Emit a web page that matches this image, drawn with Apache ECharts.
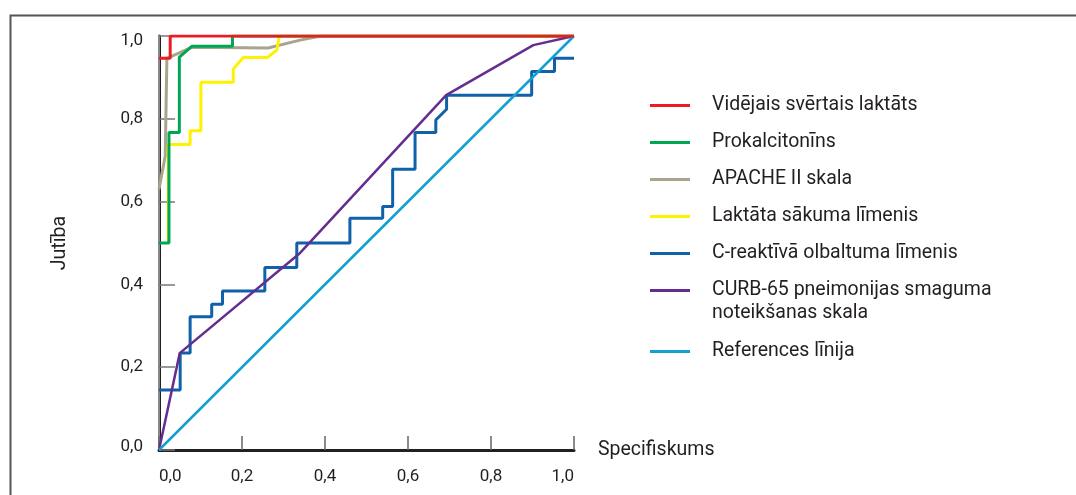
<!DOCTYPE html>
<html>
<head>
<meta charset="utf-8">
<script src="https://cdn.jsdelivr.net/npm/echarts@6/dist/echarts.min.js"></script>
<style>
html,body{margin:0;padding:0;background:#fff;}
#chart{width:1076px;height:495px;}
</style>
</head>
<body>
<div id="chart"></div>
<script>
// ---- data (x = specificity axis value, y = sensitivity) ----
const seriesNames = [
  'Vidējais svērtais laktāts',
  'Prokalcitonīns',
  'APACHE II skala',
  'Laktāta sākuma līmenis',
  'C-reaktīvā olbaltuma līmenis',
  'CURB-65 pneimonijas smaguma noteikšanas skala',
  'References līnija'
];
const lactateWeighted = [[0,0.946],[0.027,0.946],[0.027,1],[1,1]];
const procalcitonin = [[0,0.5],[0.024,0.5],[0.024,0.767],[0.049,0.767],[0.049,0.949],[0.079,0.975],[0.177,0.975],[0.177,1],[1,1]];
const apache = [[0,0.63],[0.015,0.71],[0.019,0.946],[0.08,0.973],[0.263,0.971],[0.34,0.99],[0.39,1],[1,1]];
const lactateInitial = [[0.0224,0.5],[0.0224,0.738],[0.075,0.738],[0.075,0.771],[0.101,0.771],[0.101,0.888],[0.179,0.888],[0.179,0.92],[0.203,0.948],[0.261,0.948],[0.284,0.966],[0.29,1],[1,1]];
const crp = [[0,0.145],[0.051,0.145],[0.051,0.234],[0.075,0.234],[0.075,0.322],[0.127,0.322],[0.127,0.352],[0.153,0.352],[0.153,0.384],[0.255,0.384],[0.255,0.441],[0.332,0.441],[0.332,0.5],[0.46,0.5],[0.46,0.56],[0.539,0.56],[0.539,0.588],[0.563,0.588],[0.563,0.678],[0.617,0.678],[0.617,0.767],[0.667,0.767],[0.667,0.797],[0.693,0.823],[0.693,0.857],[0.898,0.857],[0.898,0.914],[0.953,0.914],[0.953,0.946],[1,0.946]];
const curb65 = [[0,0],[0.05,0.234],[0.34,0.476],[0.692,0.857],[0.902,0.978],[1,1]];
const referenceLine = [[0,0],[1,1]];
const axisTicks = [0,0.2,0.4,0.6,0.8,1.0];

const colors = {
  'Vidējais svērtais laktāts':'#ed1c24',
  'Prokalcitonīns':'#00a651',
  'APACHE II skala':'#a8a58c',
  'Laktāta sākuma līmenis':'#fff200',
  'C-reaktīvā olbaltuma līmenis':'#1160aa',
  'CURB-65 pneimonijas smaguma noteikšanas skala':'#662d91',
  'References līnija':'#129fd2'
};
const seriesData = {
  'Vidējais svērtais laktāts':lactateWeighted,
  'Prokalcitonīns':procalcitonin,
  'APACHE II skala':apache,
  'Laktāta sākuma līmenis':lactateInitial,
  'C-reaktīvā olbaltuma līmenis':crp,
  'CURB-65 pneimonijas smaguma noteikšanas skala':curb65,
  'References līnija':referenceLine
};
// drawing order (bottom to top)
const drawOrder = [2,3,1,4,5,6,0];

const FONT = 'Roboto';
const TXT = '#231f20';
const fmt = v => v.toFixed(1).replace('.', ',');
const fmtY = v => v === axisTicks[axisTicks.length-1] ? '{t|' + fmt(v) + '}'
               : v === axisTicks[0] ? '{b|' + fmt(v) + '}' : fmt(v);

const series = drawOrder.map(i => {
  const n = seriesNames[i];
  return {
    name: n, type: 'line', data: seriesData[n],
    showSymbol: false, symbol: 'none',
    lineStyle: {color: colors[n], width: (i===5||i===6)?2.5:3},
    itemStyle: {color: colors[n]},
    xAxisIndex: 0, yAxisIndex: 0,
    emphasis: {disabled: true}
  };
});

const legendText = {fontFamily: FONT, fontSize: 19.5, color: TXT, lineHeight: 23, padding: [0,0,0,17]};

const chart = echarts.init(document.getElementById('chart'), null, {renderer:'canvas'});
chart.setOption({
  animation: false,
  backgroundColor: '#fff',
  grid: {left: 159, right: 502, top: 36, bottom: 45, containLabel: false},
  xAxis: [{
    type: 'value', min: 0, max: 1, interval: 0.2,
    name: 'Specifiskums', nameLocation: 'end', nameGap: 24,
    nameTextStyle: {fontFamily: FONT, fontSize: 19.5, color: TXT},
    axisLine: {show: true, lineStyle: {color: TXT, width: 3}},
    axisTick: {show: true, inside: true, length: 14, lineStyle: {color: '#666', width: 1.5}},
    axisLabel: {formatter: fmt, fontFamily: FONT, fontSize: 17, color: TXT, margin: 18,
                alignMinLabel: 'left', alignMaxLabel: 'right'},
    splitLine: {show: false}
  }, {
    type: 'value', min: 0, max: 1, position: 'top',
    axisLine: {show: true, lineStyle: {color: TXT, width: 2}},
    axisTick: {show: false}, axisLabel: {show: false}, splitLine: {show: false}
  }],
  yAxis: [{
    type: 'value', min: 0, max: 1, interval: 0.2,
    name: 'Jutība', nameLocation: 'middle', nameGap: 89,
    nameTextStyle: {fontFamily: FONT, fontSize: 19.5, color: TXT},
    axisLine: {show: true, lineStyle: {color: TXT, width: 3}},
    axisTick: {show: true, inside: true, length: 16, lineStyle: {color: '#777', width: 1.5}},
    axisLabel: {formatter: fmtY, fontFamily: FONT, fontSize: 17, color: TXT, margin: 16,
      rich: {
        t: {fontFamily: FONT, fontSize: 17, color: TXT, padding: [10,0,0,0]},
        b: {fontFamily: FONT, fontSize: 17, color: TXT, padding: [0,0,7,0]}
      }},
    splitLine: {show: false}
  }, {
    type: 'value', min: 0, max: 1, position: 'right',
    axisLine: {show: true, lineStyle: {color: '#888', width: 2}},
    axisTick: {show: false}, axisLabel: {show: false}, splitLine: {show: false}
  }],
  legend: [{
    orient: 'vertical', left: 650, top: 94, padding: 0,
    itemWidth: 40, itemHeight: 3, itemGap: 14, icon: 'rect',
    data: seriesNames.slice(0, 6),
    formatter: n => n.startsWith('CURB') ? 'CURB-65 pneimonijas smaguma' : n,
    textStyle: legendText,
    selectedMode: false
  }, {
    orient: 'vertical', left: 650, top: 340, padding: 0,
    itemWidth: 40, itemHeight: 3, itemGap: 14, icon: 'rect',
    data: seriesNames.slice(6),
    textStyle: legendText,
    selectedMode: false
  }],
  graphic: [{
    type: 'rect', left: 8, top: 13, silent: true, z: -1,
    shape: {width: 1100, height: 520},
    style: {fill: 'none', stroke: '#555', lineWidth: 2}
  }, {
    type: 'text', left: 712, top: 302, silent: true,
    style: {text: 'noteikšanas skala', font: '19.5px ' + FONT, fill: TXT, lineHeight: 23}
  }],
  series: series
});
</script>
</body>
</html>
